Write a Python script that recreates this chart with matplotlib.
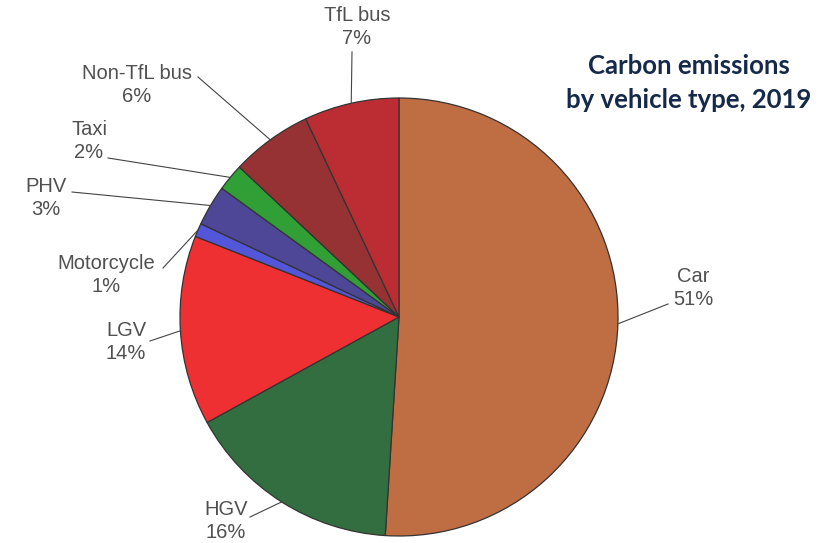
import numpy as np
import matplotlib.pyplot as plt

# data
vehicles = ['Car', 'HGV', 'LGV', 'Motorcycle', 'PHV', 'Taxi', 'Non-TfL bus', 'TfL bus']
shares = [51, 16, 14, 1, 3, 2, 6, 7]
colors = ['#BF6D42', '#326E40', '#EE3033', '#5456DA', '#4E4696', '#30A036', '#963233', '#BB2D33']

# label layout (pixels from top-left): text centre, leader-line outer end
label_pos = [(693, 288), (226, 521), (126, 342), (106, 275), (46, 198), (89, 141), (137, 85), (357, 27)]
line_end = [(668, 304), (250, 517), (150, 341), (163, 268), (72, 192), (108, 158), (198, 77), (352, 52)]

W, H = 831, 543
cx, cy, r = 399, H - 317, 219

fig = plt.figure(figsize=(W / 100, H / 100), dpi=100)
ax = fig.add_axes([0, 0, 1, 1])

wedges, _ = ax.pie(shares, colors=colors, startangle=90, counterclock=False,
                   center=(cx, cy), radius=r, frame=True,
                   wedgeprops=dict(edgecolor='#333333', linewidth=0.9))
ax.set_xlim(0, W)
ax.set_ylim(0, H)
ax.axis('off')

for w, name, pct, (tx, ty), (lx, ly) in zip(wedges, vehicles, shares, label_pos, line_end):
    ang = np.deg2rad((w.theta1 + w.theta2) / 2)
    px, py = cx + r * np.cos(ang), cy + r * np.sin(ang)
    ax.plot([px, lx], [py, H - ly], color='#444444', lw=0.8)
    ax.text(tx, H - ty, f'{name}\n{pct}%', ha='center', va='center', fontsize=14.5,
            color='#505050', family='Liberation Sans', linespacing=1.3)

ax.text(689, H - 83, 'Carbon emissions\nby vehicle type, 2019', ha='center', va='center',
        fontsize=18.5, fontweight='bold', color='#15294A', family='Lato', linespacing=1.45)

fig.savefig('out.png', dpi=100)
